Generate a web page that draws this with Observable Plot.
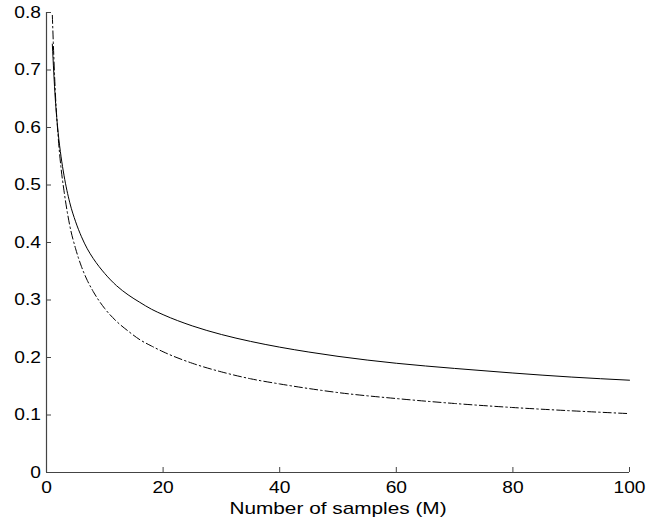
<!DOCTYPE html>
<html>
<head>
<meta charset="utf-8">
<script src="https://cdn.jsdelivr.net/npm/d3@7"></script>
<script src="https://cdn.jsdelivr.net/npm/@observablehq/plot@0.6"></script>
<style>
  html, body { margin: 0; padding: 0; background: #fff; }
  svg { display: block; }
</style>
</head>
<body>
<div id="chart"></div>
<script>
// Number of samples M
const samples = [1, 1.5, 2, 2.5, 3, 4, 5, 6, 7, 8, 10, 12, 14, 16, 18, 20, 25, 30, 35, 40, 45, 50, 60, 70, 80, 90, 100];
// Solid curve values
const solidValues = [0.745, 0.651, 0.591, 0.549, 0.517, 0.469, 0.436, 0.410, 0.389, 0.3725, 0.346, 0.325, 0.309, 0.296, 0.284, 0.2745, 0.255, 0.240, 0.228, 0.218, 0.2095, 0.202, 0.190, 0.181, 0.173, 0.166, 0.1605];
// Dash-dot curve values
const dashDotValues = [0.795, 0.664, 0.584, 0.529, 0.490, 0.429, 0.389, 0.358, 0.334, 0.315, 0.285, 0.263, 0.246, 0.231, 0.220, 0.210, 0.190, 0.175, 0.163, 0.154, 0.146, 0.139, 0.1286, 0.120, 0.113, 0.1073, 0.1024];
const xTicks = [0, 20, 40, 60, 80, 100];
const yTicks = [0, 0.1, 0.2, 0.3, 0.4, 0.5, 0.6, 0.7, 0.8];
const xLabel = "Number of samples (M)";

const solid = samples.map((m, i) => ({m, v: solidValues[i]}));
const dashDot = samples.map((m, i) => ({m, v: dashDotValues[i]}));

const axisColor = "#444";
const chart = Plot.plot({
  width: 646,
  height: 527,
  marginLeft: 46,
  marginRight: 17,
  marginTop: 12,
  marginBottom: 55,
  style: {fontFamily: "'Liberation Sans', Arial, Helvetica, sans-serif", fontSize: "16px", color: "#000", background: "#fff"},
  x: {domain: [0, 100]},
  y: {domain: [0, 0.8]},
  marks: [
    Plot.ruleY([0], {stroke: axisColor, strokeWidth: 1.2}),
    Plot.ruleX([0], {stroke: axisColor, strokeWidth: 1.2}),
    Plot.axisX(xTicks, {tickSize: -5, tickPadding: 14.4, stroke: axisColor, fill: "#000", fontSize: 16, label: null}),
    Plot.axisY(yTicks, {tickSize: -5, tickPadding: 10.5, stroke: axisColor, fill: "#000", fontSize: 16, label: null, tickFormat: d => d === 0 ? "0" : d3.format(".1f")(d)}),
    Plot.line(solid, {x: "m", y: "v", stroke: "#000", strokeWidth: 1, curve: "monotone-x"}),
    Plot.line(dashDot, {x: "m", y: "v", stroke: "#000", strokeWidth: 1, strokeDasharray: "8,3,1.5,3", curve: "monotone-x"}),
    Plot.text([xLabel], {frameAnchor: "bottom", dy: 41.6, fontSize: 16, fill: "#000"})
  ]
});
// The reference typeface is drawn horizontally wider than Arial; widen the glyphs.
chart.querySelectorAll("text").forEach(t => {
  const isLabel = t.textContent === xLabel;
  const s = isLabel ? 1.3 : 1.2;
  const tr = t.getAttribute("transform") || "";
  t.setAttribute("transform", (tr + ` scale(${s},1)`).trim());
});
document.getElementById("chart").appendChild(chart);
</script>
</body>
</html>
